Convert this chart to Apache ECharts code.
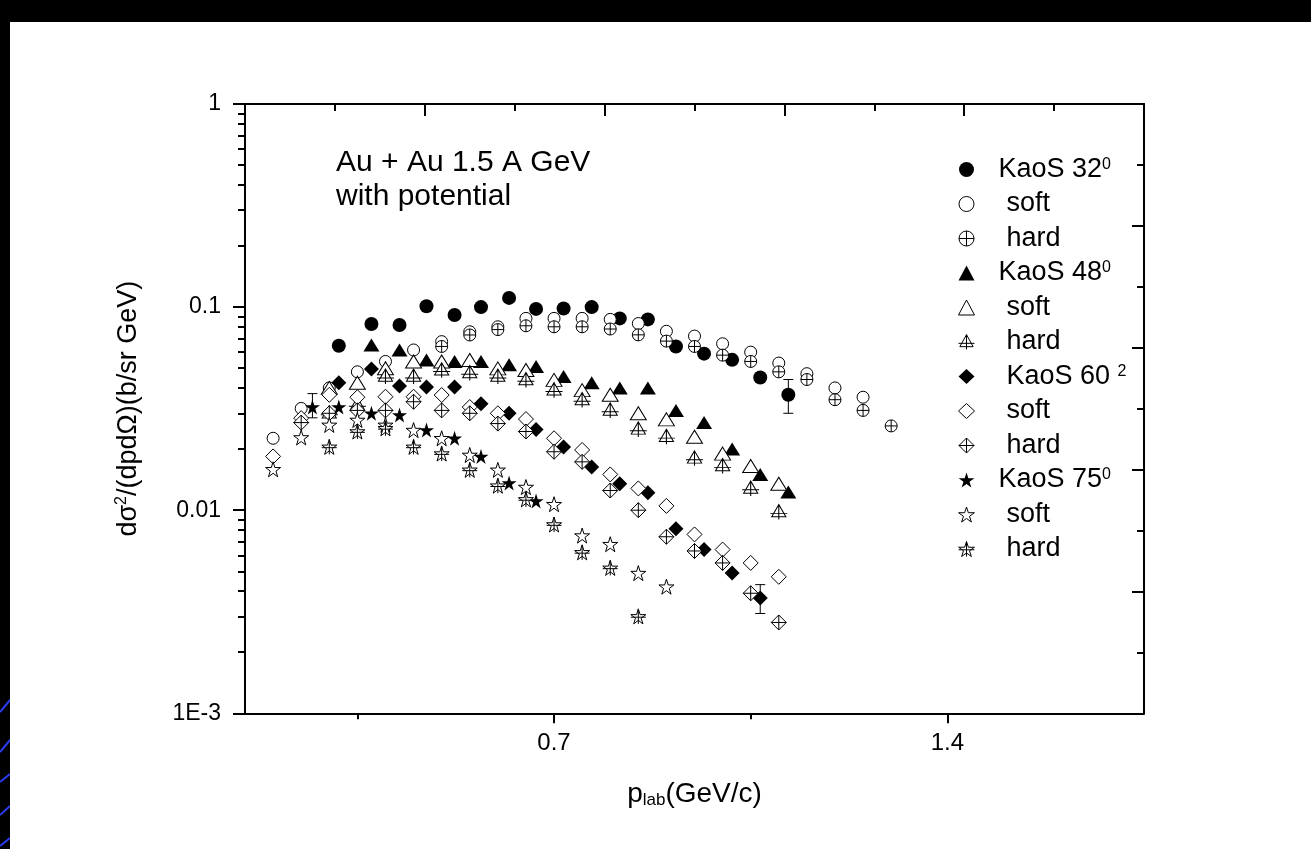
<!DOCTYPE html>
<html>
<head>
<meta charset="utf-8">
<script src="https://cdn.jsdelivr.net/npm/echarts@6/dist/echarts.min.js"></script>
<style>
html,body{margin:0;padding:0;background:#000;width:1311px;height:849px;overflow:hidden}
#page{position:absolute;left:10px;top:22px;width:1301px;height:827px;background:#fff}
#deco{position:absolute;left:0;top:0}
#chart{position:absolute;left:0;top:0;width:1311px;height:849px}
</style>
</head>
<body>
<svg id="deco" width="12" height="849">
  <line x1="0" y1="712" x2="10" y2="700" stroke="#2a3cf0" stroke-width="2"/>
  <line x1="0" y1="752" x2="10" y2="740" stroke="#2a3cf0" stroke-width="2"/>
  <line x1="0" y1="782" x2="10" y2="774" stroke="#2a3cf0" stroke-width="2"/>
  <line x1="0" y1="815" x2="10" y2="806" stroke="#2a3cf0" stroke-width="2"/>
  <line x1="0" y1="846" x2="10" y2="838" stroke="#2a3cf0" stroke-width="2"/>
</svg>
<div id="page"></div>
<div id="chart"></div>
<script>
// ---------------- data ----------------
const kaos32X = [0.317,0.375,0.425,0.473,0.523,0.570,0.620,0.668,0.717,0.767,0.817,0.867,0.917,0.967,1.017,1.067,1.117];
const kaos32Y = [0.0645,0.0825,0.0816,0.101,0.0915,0.100,0.111,0.098,0.0985,0.100,0.088,0.087,0.064,0.059,0.055,0.045,0.037];
const soft32X = [0.20,0.25,0.30,0.35,0.40,0.45,0.50,0.55,0.60,0.65,0.70,0.75,0.80,0.85,0.90,0.95,1.00,1.05,1.10,1.15,1.20,1.25];
const soft32Y = [0.0226,0.0317,0.040,0.048,0.054,0.0615,0.0676,0.0756,0.080,0.088,0.088,0.088,0.087,0.083,0.076,0.072,0.066,0.060,0.053,0.047,0.040,0.036];
const hard32X = [0.50,0.55,0.60,0.65,0.70,0.75,0.80,0.85,0.90,0.95,1.00,1.05,1.10,1.15,1.20,1.25,1.30];
const hard32Y = [0.064,0.0729,0.0775,0.0809,0.080,0.080,0.078,0.073,0.068,0.064,0.058,0.054,0.048,0.044,0.035,0.031,0.026];

const kaos48X = [0.375,0.425,0.473,0.523,0.570,0.620,0.668,0.717,0.767,0.817,0.867,0.917,0.967,1.017,1.067,1.117];
const kaos48Y = [0.065,0.0615,0.0549,0.054,0.054,0.052,0.051,0.0455,0.0424,0.040,0.040,0.031,0.027,0.020,0.015,0.0123];
const soft48X = [0.30,0.35,0.40,0.45,0.50,0.55,0.60,0.65,0.70,0.75,0.80,0.85,0.90,0.95,1.00,1.05,1.10];
const soft48Y = [0.040,0.0424,0.050,0.054,0.054,0.0549,0.0499,0.049,0.0438,0.039,0.037,0.030,0.028,0.023,0.019,0.0165,0.0135];
const hard48X = [0.30,0.35,0.40,0.45,0.50,0.55,0.60,0.65,0.70,0.75,0.80,0.85,0.90,0.95,1.00,1.05,1.10];
const hard48Y = [0.030,0.033,0.0455,0.0455,0.0489,0.0474,0.0455,0.0438,0.039,0.0349,0.031,0.025,0.023,0.018,0.0165,0.0128,0.0098];

const kaos60X = [0.317,0.375,0.425,0.473,0.523,0.570,0.620,0.668,0.717,0.767,0.817,0.867,0.917,0.967,1.017,1.067];
const kaos60Y = [0.0424,0.0496,0.0409,0.0404,0.0404,0.0334,0.030,0.025,0.0205,0.0163,0.0135,0.0122,0.0081,0.0064,0.0049,0.0037];
const soft60X = [0.20,0.25,0.30,0.35,0.40,0.45,0.50,0.55,0.60,0.65,0.70,0.75,0.80,0.85,0.90,0.95,1.00,1.05,1.10];
const soft60Y = [0.0184,0.0284,0.037,0.036,0.0362,0.0362,0.0369,0.0322,0.030,0.0281,0.0226,0.0198,0.0150,0.0128,0.0105,0.0076,0.0064,0.0055,0.0047];
const hard60X = [0.25,0.30,0.35,0.40,0.45,0.50,0.55,0.60,0.65,0.70,0.75,0.80,0.85,0.90,0.95,1.00,1.05,1.10];
const hard60Y = [0.027,0.030,0.031,0.031,0.0342,0.031,0.030,0.0267,0.0244,0.0194,0.0173,0.0125,0.0100,0.0074,0.0063,0.0055,0.0039,0.0028];

const kaos75X = [0.270,0.317,0.375,0.425,0.473,0.523,0.570,0.620,0.668];
const kaos75Y = [0.0322,0.0322,0.0300,0.0294,0.0248,0.0226,0.0184,0.0136,0.0111];
const soft75X = [0.20,0.25,0.30,0.35,0.40,0.45,0.50,0.55,0.60,0.65,0.70,0.75,0.80,0.85,0.90];
const soft75Y = [0.0159,0.0228,0.0263,0.0278,0.0263,0.0248,0.0226,0.0187,0.0158,0.0130,0.0107,0.0075,0.0068,0.0049,0.0042];
const hard75X = [0.30,0.35,0.40,0.45,0.50,0.55,0.60,0.65,0.70,0.75,0.80,0.85];
const hard75Y = [0.0205,0.0244,0.0253,0.0205,0.019,0.0158,0.0132,0.0113,0.0085,0.0062,0.0052,0.0030];

// error bars: x, low, high
const errX    = [1.117, 1.067, 0.270];
const errLow  = [0.030, 0.0031, 0.0285];
const errHigh = [0.044, 0.0043, 0.0375];

// tick labels
const xTickValues = [0.7, 1.4];
const xTickLabels = ['0.7', '1.4'];
const xMinorValues = [0.35, 1.05];
const yTickLabels = {'0': '1', '-1': '0.1', '-2': '0.01', '-3': '1E-3'};

const seriesNames = ['KaoS 32','soft 32','hard 32','KaoS 48','soft 48','hard 48','KaoS 60','soft 60','hard 60','KaoS 75','soft 75','hard 75'];
const legendLabels = {
  'KaoS 32': '{k|KaoS 32}{s|0}', 'soft 32': '{n|soft}', 'hard 32': '{n|hard}',
  'KaoS 48': '{k|KaoS 48}{s|0}', 'soft 48': '{n|soft}', 'hard 48': '{n|hard}',
  'KaoS 60': '{m|KaoS 60 }{s|2}', 'soft 60': '{n|soft}', 'hard 60': '{n|hard}',
  'KaoS 75': '{k|KaoS 75}{s|0}', 'soft 75': '{n|soft}', 'hard 75': '{n|hard}'
};

// ---------------- symbols ----------------
const STAR = 'M0,-10L2.245,-3.09L9.511,-3.09L3.633,1.18L5.878,8.09L0,3.82L-5.878,8.09L-3.633,1.18L-9.511,-3.09L-2.245,-3.09Z';
const SYM = {
  circlePlus: 'path://M10,0A10,10,0,1,1,-10,0A10,10,0,1,1,10,0ZM-10,0L10,0M0,-10L0,10',
  triCross: 'path://M0,-10L10,8L-10,8ZM0,-10L0,12M-12,3L12,3',
  diaCross: 'path://M0,-10L10,0L0,10L-10,0ZM-10,0L10,0M0,-10L0,10',
  star: 'path://' + STAR,
  starCross: 'path://' + STAR + 'M0,-10L0,8.09M-9.511,0L9.511,0'
};
const FILLED = {color: '#000'};
const OPEN = {color: '#fff', borderColor: '#000', borderWidth: 1};

const FONT = "'Liberation Sans', Arial, sans-serif";

function pts(xs, ys) { return xs.map((x, i) => [x, ys[i]]); }

const defs = [
  {name: 'KaoS 32', x: kaos32X, y: kaos32Y, symbol: 'circle', size: 14, style: FILLED},
  {name: 'soft 32', x: soft32X, y: soft32Y, symbol: 'circle', size: 12, style: OPEN},
  {name: 'hard 32', x: hard32X, y: hard32Y, symbol: SYM.circlePlus, size: 12, style: OPEN},
  {name: 'KaoS 48', x: kaos48X, y: kaos48Y, symbol: 'triangle', size: [16, 13], style: FILLED},
  {name: 'soft 48', x: soft48X, y: soft48Y, symbol: 'triangle', size: [16, 13], style: OPEN},
  {name: 'hard 48', x: hard48X, y: hard48Y, symbol: SYM.triCross, size: [17, 15], style: OPEN},
  {name: 'KaoS 60', x: kaos60X, y: kaos60Y, symbol: 'diamond', size: [15, 15], style: FILLED},
  {name: 'soft 60', x: soft60X, y: soft60Y, symbol: 'diamond', size: [15, 15], style: OPEN},
  {name: 'hard 60', x: hard60X, y: hard60Y, symbol: SYM.diaCross, size: [15, 15], style: OPEN},
  {name: 'KaoS 75', x: kaos75X, y: kaos75Y, symbol: SYM.star, size: 15, style: FILLED},
  {name: 'soft 75', x: soft75X, y: soft75Y, symbol: SYM.star, size: 15, style: OPEN},
  {name: 'hard 75', x: hard75X, y: hard75Y, symbol: SYM.starCross, size: 15, style: OPEN}
];

// minor tick positions for the log axis (in log10 units)
const yMinorLog = [];
for (let e = -3; e < 0; e++) for (let k = 2; k <= 9; k++) yMinorLog.push(Math.log10(k) + e);

const axisLineStyle = {color: '#000', width: 2};

const series = [{
  type: 'custom',
  name: 'err',
  xAxisIndex: 0, yAxisIndex: 0,
  data: errX.map((x, i) => [x, errLow[i], errHigh[i]]),
  encode: {x: 0, y: [1, 2]},
  renderItem: function (params, api) {
    const x = api.value(0);
    const lo = api.coord([x, api.value(1)]);
    const hi = api.coord([x, api.value(2)]);
    const w = 5;
    const st = {stroke: '#000', lineWidth: 1};
    return {type: 'group', children: [
      {type: 'line', shape: {x1: lo[0], y1: lo[1], x2: hi[0], y2: hi[1]}, style: st},
      {type: 'line', shape: {x1: lo[0] - w, y1: lo[1], x2: lo[0] + w, y2: lo[1]}, style: st},
      {type: 'line', shape: {x1: hi[0] - w, y1: hi[1], x2: hi[0] + w, y2: hi[1]}, style: st}
    ]};
  },
  z: 1
}];
defs.forEach(d => {
  series.push({
    type: 'scatter',
    name: d.name,
    xAxisIndex: 0, yAxisIndex: 0,
    data: pts(d.x, d.y),
    symbol: d.symbol,
    symbolSize: d.size,
    symbolKeepAspect: false,
    itemStyle: Object.assign({opacity: 1}, d.style),
    emphasis: {disabled: true},
    z: 2
  });
});

const chart = echarts.init(document.getElementById('chart'), null, {renderer: 'canvas'});
chart.setOption({
  backgroundColor: 'transparent',
  animation: false,
  title: {
    text: 'Au + Au 1.5 A GeV\nwith potential',
    left: 336, top: 146, padding: 0,
    textStyle: {fontFamily: FONT, fontSize: 30, fontWeight: 'normal', color: '#000', lineHeight: 34}
  },
  legend: {
    orient: 'vertical',
    left: 958, top: 156, padding: 0,
    itemWidth: 16, itemHeight: 15, itemGap: 7.5,
    selectedMode: false,
    data: defs.map(d => ({name: d.name, icon: d.symbol, itemStyle: d.style})),
    formatter: name => legendLabels[name],
    textStyle: {
      fontFamily: FONT, color: '#000', fontSize: 27,
      rich: {
        k: {fontFamily: FONT, fontSize: 27, lineHeight: 26, color: '#000', padding: [0, 0, 0, 19]},
        m: {fontFamily: FONT, fontSize: 27, lineHeight: 26, color: '#000', padding: [0, 0, 0, 27]},
        n: {fontFamily: FONT, fontSize: 27, lineHeight: 26, color: '#000', padding: [0, 0, 0, 27]},
        s: {fontFamily: FONT, fontSize: 16, lineHeight: 2, verticalAlign: 'top', color: '#000'}
      }
    }
  },
  grid: {left: 245, top: 104, width: 899, height: 609.3, containLabel: false, outerBoundsMode: 'none'},
  xAxis: [
    {
      type: 'value', position: 'bottom', min: 0.15, max: 1.75,
      axisLine: {onZero: false, lineStyle: axisLineStyle},
      axisTick: {customValues: xTickValues, length: 10, lineStyle: {color: '#000', width: 2}},
      axisLabel: {customValues: xTickValues, formatter: v => xTickLabels[xTickValues.indexOf(Math.round(v * 100) / 100)] || '',
        margin: 18, fontFamily: FONT, fontSize: 24, color: '#000'},
      splitLine: {show: false},
      name: '{a|p}{b|lab}{a|(GeV/c)}', nameLocation: 'middle', nameGap: 66,
      nameTextStyle: {fontFamily: FONT, color: '#000', rich: {
        a: {fontFamily: FONT, fontSize: 28, lineHeight: 30, color: '#000'},
        b: {fontFamily: FONT, fontSize: 17, lineHeight: 14, verticalAlign: 'bottom', color: '#000'}
      }}
    },
    {
      type: 'value', position: 'bottom', min: 0.15, max: 1.75,
      axisLine: {show: false, onZero: false},
      axisTick: {customValues: xMinorValues, length: 6, lineStyle: {color: '#000', width: 2}},
      axisLabel: {show: false},
      splitLine: {show: false}
    },
    {
      type: 'value', position: 'top', min: 0, max: 5, interval: 1,
      axisLine: {onZero: false, lineStyle: axisLineStyle},
      axisTick: {inside: true, length: 12, lineStyle: {color: '#000', width: 2}},
      minorTick: {show: true, splitNumber: 2, length: 7, lineStyle: {color: '#000', width: 2}},
      axisLabel: {show: false},
      splitLine: {show: false}
    }
  ],
  yAxis: [
    {
      type: 'log', logBase: 10, min: 0.001, max: 1, position: 'left',
      axisLine: {onZero: false, lineStyle: axisLineStyle},
      axisTick: {length: 12, lineStyle: {color: '#000', width: 2}},
      minorTick: {show: false},
      axisLabel: {formatter: v => yTickLabels[String(Math.round(Math.log10(v)))] || '',
        margin: 24, fontFamily: FONT, fontSize: 23, color: '#000'},
      splitLine: {show: false},
      name: '{a|dσ}{b|2}{a|/(dpdΩ)(b/sr GeV)}', nameLocation: 'middle', nameGap: 101, nameRotate: 90,
      nameTextStyle: {fontFamily: FONT, color: '#000', rich: {
        a: {fontFamily: FONT, fontSize: 27, lineHeight: 30, color: '#000'},
        b: {fontFamily: FONT, fontSize: 16, lineHeight: 10, verticalAlign: 'top', color: '#000'}
      }}
    },
    {
      type: 'value', min: -3, max: 0, position: 'left',
      axisLine: {show: false, onZero: false},
      axisTick: {customValues: yMinorLog, length: 7, lineStyle: {color: '#000', width: 2}},
      axisLabel: {show: false},
      splitLine: {show: false}
    },
    {
      type: 'value', min: 0, max: 5, interval: 1, position: 'right',
      axisLine: {onZero: false, lineStyle: axisLineStyle},
      axisTick: {inside: true, length: 12, lineStyle: {color: '#000', width: 2}},
      minorTick: {show: true, splitNumber: 2, length: 7, lineStyle: {color: '#000', width: 2}},
      axisLabel: {show: false},
      splitLine: {show: false}
    }
  ],
  series: series
});
</script>
</body>
</html>
